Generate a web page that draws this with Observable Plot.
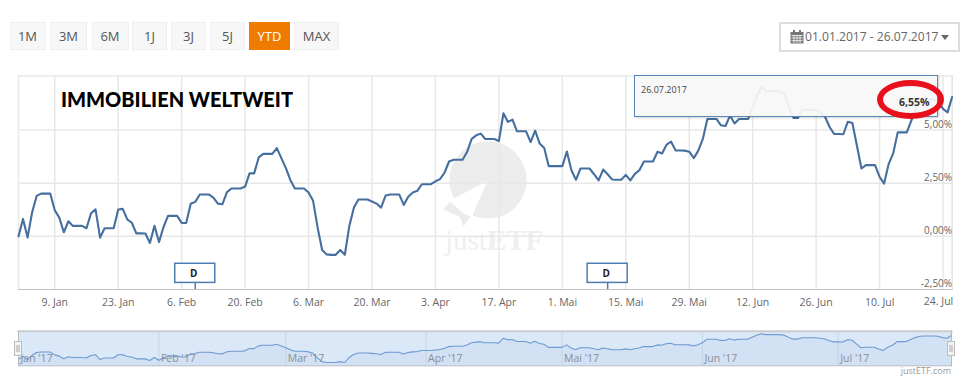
<!DOCTYPE html>
<html><head><meta charset="utf-8">
<script src="https://cdn.jsdelivr.net/npm/d3@7"></script>
<script src="https://cdn.jsdelivr.net/npm/@observablehq/plot@0.6"></script>
<style>
html,body{margin:0;padding:0;background:#fff;width:970px;height:390px;overflow:hidden;font-family:"Open Sans",sans-serif}
.abs{position:absolute;box-sizing:border-box}
.btn{top:22px;height:28px;background:#f7f7f7;border:1px solid #efefef;color:#555;font-size:13px;line-height:26px;text-align:center}
.btn.on{background:#ee7b00;border-color:#ee7b00;color:#fff}
#plotMain,#plotMini{position:absolute;left:0}
#plotMain svg,#plotMini svg{display:block}
</style></head><body>
<div id="mark" class="abs" style="left:0;top:0;width:970px;height:390px">
<svg width="970" height="390" style="position:absolute;left:0;top:0">
<circle cx="488" cy="180" r="38.7" fill="#ececec"/>
<polygon points="487.3,181 452.7,199 463.3,213.3 471.7,217.3" fill="#fff"/>
<polygon points="450,201.7 443.3,209.3 460,217.3 463.3,226.7 470.7,216.7 463.3,213.3" fill="#ececec"/>
<text x="445" y="250" font-family="Liberation Serif" font-size="29" fill="#efefef">just<tspan font-weight="bold">ETF</tspan></text>
</svg></div>
<div id="plotMain" style="top:70px"></div>
<div id="plotMini" style="top:326px"></div>
<div id="ui"></div>
<script>
const startDay = new Date(Date.UTC(2017, 0, 1));
// daily performance in percent, 1 Jan – 26 Jul 2017
const performance = [
0.00,0.82,-0.06,1.12,1.90,2.01,2.01,2.01,1.23,0.88,0.19,0.71,0.49,0.49,0.49,0.38,1.08,1.27,-0.06,0.38,0.38,
0.38,1.26,1.29,0.80,0.64,0.14,0.14,0.13,-0.31,0.50,-0.27,0.44,0.96,0.96,0.96,0.63,0.63,1.53,1.62,1.97,1.97,
1.97,1.82,1.54,1.51,2.08,2.25,2.25,2.25,2.34,2.97,2.96,3.71,3.88,3.88,3.88,4.15,3.68,3.21,2.64,2.25,2.25,
2.25,2.06,1.67,0.41,-0.64,-0.85,-0.87,-0.87,-0.64,-0.87,0.49,1.35,1.73,1.73,1.73,1.64,1.54,1.35,1.92,1.97,1.97,
1.97,1.48,1.86,2.06,2.14,2.45,2.45,2.45,2.59,2.69,2.99,3.52,3.60,3.60,3.60,3.98,4.58,4.75,4.83,4.58,4.58,
4.58,4.48,5.79,5.38,5.49,4.94,4.94,4.94,4.43,4.97,4.36,4.15,3.30,3.30,3.30,3.30,3.99,3.11,2.66,3.19,3.19,
3.19,2.92,2.63,3.14,2.92,2.67,2.66,2.66,2.89,2.63,2.94,3.11,3.52,3.52,3.52,3.98,3.90,4.31,4.45,4.04,4.04,
4.03,3.98,3.68,4.03,4.58,5.52,5.52,5.52,5.22,5.19,5.68,5.31,5.52,5.52,5.52,6.07,6.62,7.04,6.82,6.82,6.82,
6.81,6.67,6.07,5.57,5.57,5.94,5.94,5.94,5.94,5.83,5.60,5.13,4.81,4.81,4.80,5.39,5.33,4.26,3.19,3.35,3.35,
3.35,2.80,2.48,3.40,3.90,4.89,4.89,4.89,5.44,5.99,6.35,6.45,6.42,6.42,6.35,5.99,5.83,6.55
];
const series = performance.map((v, i) => ({date: d3.utcDay.offset(startDay, i), value: v}));

const tickDates = ["2017-01-09","2017-01-23","2017-02-06","2017-02-20","2017-03-06","2017-03-20","2017-04-03","2017-04-17","2017-05-01","2017-05-15","2017-05-29","2017-06-12","2017-06-26","2017-07-10","2017-07-24"].map(s => new Date(s));
const tickLabels = ["9. Jan","23. Jan","6. Feb","20. Feb","6. Mar","20. Mar","3. Apr","17. Apr","1. Mai","15. Mai","29. Mai","12. Jun","26. Jun","10. Jul","24. Jul"];
const yTicks = [-2.5, 0, 2.5, 5];
const yLabels = ["-2,50%","0,00%","2,50%","5,00%"];
const flagDates = ["2017-02-09","2017-05-11"].map(s => new Date(s));
const flagLabel = "D";
const monthDates = ["2017-01-01","2017-02-01","2017-03-01","2017-04-01","2017-05-01","2017-06-01","2017-07-01"].map(s => new Date(s));
const monthLabels = ["Jan '17","Feb '17","Mar '17","Apr '17","Mai '17","Jun '17","Jul '17"];
const rangeButtons = ["1M","3M","6M","1J","3J","5J","YTD","MAX"];
const chartTitle = "IMMOBILIEN WELTWEIT";
const dateRange = "01.01.2017 - 26.07.2017";
const tooltipDate = "26.07.2017";
const tooltipValue = "6,55%";

const font = '"Open Sans",sans-serif';
const xDomain = [startDay, new Date("2017-07-26")];
const gridColor = "#e8e8e8", axisText = "#666", lineColor = "#456f9f";
const lastTick = tickDates.length - 1;
const labelOf = new Map(tickDates.map((d, i) => [+d, tickLabels[i]]));
const yLabelOf = new Map(yTicks.map((v, i) => [v, yLabels[i]]));

const main = Plot.plot({
  width: 970, height: 245,
  marginTop: 5.5, marginBottom: 26, marginLeft: 18, marginRight: 18.4,
  style: {background: "transparent", fontFamily: font, fontSize: "10px", overflow: "visible"},
  x: {type: "utc", domain: xDomain, axis: null},
  y: {domain: [-2.5, 7.54], axis: null},
  marks: [
    Plot.ruleY(yTicks.slice(1), {stroke: gridColor, strokeWidth: 1.5}),
    Plot.ruleX(tickDates, {stroke: gridColor, strokeWidth: 1.5}),
    Plot.frame({anchor: "top", stroke: gridColor, strokeWidth: 1.5}),
    Plot.frame({anchor: "left", stroke: gridColor, strokeWidth: 1.5}),
    Plot.frame({anchor: "right", stroke: "#d4d4d4", strokeWidth: 1}),
    Plot.frame({anchor: "bottom", stroke: "#c0c4c8", strokeWidth: 1.2}),
    Plot.line(series, {x: "date", y: "value", stroke: lineColor, strokeWidth: 2.1, curve: "linear"}),
    Plot.ruleX(flagDates, {y1: -2.19, y2: -2.5, stroke: "#4d7cb3", strokeWidth: 1.5}),
    Plot.rect(flagDates, {x1: d => d3.utcHour.offset(d, -106), x2: d => d3.utcHour.offset(d, 106), y1: -2.19, y2: -1.29, fill: "#fff", stroke: "#4d7cb3", strokeWidth: 1.5, style: {filter: "drop-shadow(1px 1px 1px #bbb)"}}),
    Plot.text(flagDates, {x: d => d, y: -1.74, dx: -1.5, text: () => flagLabel, fontWeight: "bold", fontSize: 10, fill: "#222"}),
    Plot.axisX({ticks: tickDates.slice(0, lastTick), tickSize: 0, tickPadding: 9, tickFormat: d => labelOf.get(+d), fill: axisText, fontSize: 10.5, label: null}),
    Plot.text([tickDates[lastTick]], {x: d => d, y: -2.5, dy: 12.5, dx: -4.5, text: d => labelOf.get(+d), fill: axisText, fontSize: 10.5}),
    Plot.text(yTicks, {x: xDomain[1], y: d => d, dy: -5.5, text: d => yLabelOf.get(d), textAnchor: "end", fill: axisText, fontSize: 10})
  ]
});
document.getElementById("plotMain").appendChild(main);

const mini = Plot.plot({
  width: 970, height: 46,
  marginTop: 4.7, marginBottom: 6.7, marginLeft: 18, marginRight: 19,
  style: {background: "transparent", fontFamily: font, fontSize: "10px", overflow: "visible"},
  x: {type: "utc", domain: xDomain, axis: null},
  y: {domain: [-1.78, 7.76], axis: null},
  marks: [
    Plot.frame({fill: "#dbe8f8", stroke: null}),
    Plot.areaY(series, {x: "date", y1: -1.78, y2: "value", fill: "#d2e1f3"}),
    Plot.ruleX(monthDates.slice(1), {stroke: "#c6d5e6", strokeWidth: 1}),
    Plot.line(series, {x: "date", y: "value", stroke: "#6f9bd1", strokeWidth: 1.1}),
    Plot.text(monthDates, {x: d => d, y: -1.78, dy: -7.5, dx: 2, text: (d, i) => monthLabels[i], textAnchor: "start", fill: "#8a8f96", fontSize: 10.5}),
    Plot.frame({anchor: "top", stroke: "#cccccc", strokeWidth: 2}),
    Plot.frame({anchor: "bottom", stroke: "#b8bcc2", strokeWidth: 1}),
    Plot.frame({anchor: "left", stroke: "#b8bcc2", strokeWidth: 1}),
    Plot.frame({anchor: "right", stroke: "#b8bcc2", strokeWidth: 1})
  ]
});
document.getElementById("plotMini").appendChild(mini);

const ui = document.getElementById("ui");
function el(style, html, cls) {
  const d = document.createElement("div");
  d.className = "abs " + (cls || "");
  d.style.cssText = style;
  d.innerHTML = html || "";
  ui.appendChild(d);
  return d;
}
const btnX = [[9.5,36],[50,37],[91.5,37],[132,35],[171,35],[210,35],[249,41],[294,45]];
rangeButtons.forEach((b, i) => el(`left:${btnX[i][0]}px;width:${btnX[i][1]}px`, b, "btn" + (b === "YTD" ? " on" : "")));

el('left:779px;top:22px;width:181px;height:30px;border:2px solid #ddd;background:#fff');
el('left:790px;top:30px;width:14px;height:14px', '<svg width="14" height="14" style="display:block"><rect x="0.5" y="2" width="13" height="11.5" fill="#777"/><rect x="3" y="0" width="2" height="3.5" fill="#777"/><rect x="9" y="0" width="2" height="3.5" fill="#777"/><path d="M1.5 5.5h11M1.5 8h11M1.5 10.7h11M4 5v8M7 5v8M10 5v8" stroke="#fff" stroke-width="0.8"/></svg>');
el('left:805px;top:27px;height:20px;white-space:nowrap;font-size:12.1px;line-height:20px;color:#666', dateRange);
el('left:941px;top:35px;width:0;height:0;border-left:4.5px solid transparent;border-right:4.5px solid transparent;border-top:5px solid #666');

el('left:61px;top:86px;white-space:nowrap;font-family:Lato;font-weight:900;font-size:20px;line-height:27px;color:#000', chartTitle);

el('left:634px;top:75px;width:304px;height:42px;background:rgba(248,248,248,0.93);border:1.5px solid #5a86b8;box-shadow:1px 1px 2px rgba(0,0,0,.18)');
el('left:641px;top:83px;font-size:9px;line-height:13px;color:#444', tooltipDate);
el('left:899px;top:95px;font-size:10.5px;font-weight:700;line-height:14px;color:#333', tooltipValue);
el('left:877px;top:80px;width:67px;height:39px;border:6px solid #e8101c;border-radius:50%');

const handle = `<svg width="8" height="15" style="display:block"><rect x="0.5" y="0.5" width="7" height="14" fill="#f2f2f2" stroke="#bdbdbd"/><path d="M3 4v7M5 4v7" stroke="#aaa"/></svg>`;
el('left:14px;top:341px;width:8px;height:15px', handle);
el('left:947px;top:341px;width:8px;height:15px', handle);
el('right:19px;top:365px;font-size:9px;line-height:12px;color:#999', "justETF.com");
</script>
</body></html>
